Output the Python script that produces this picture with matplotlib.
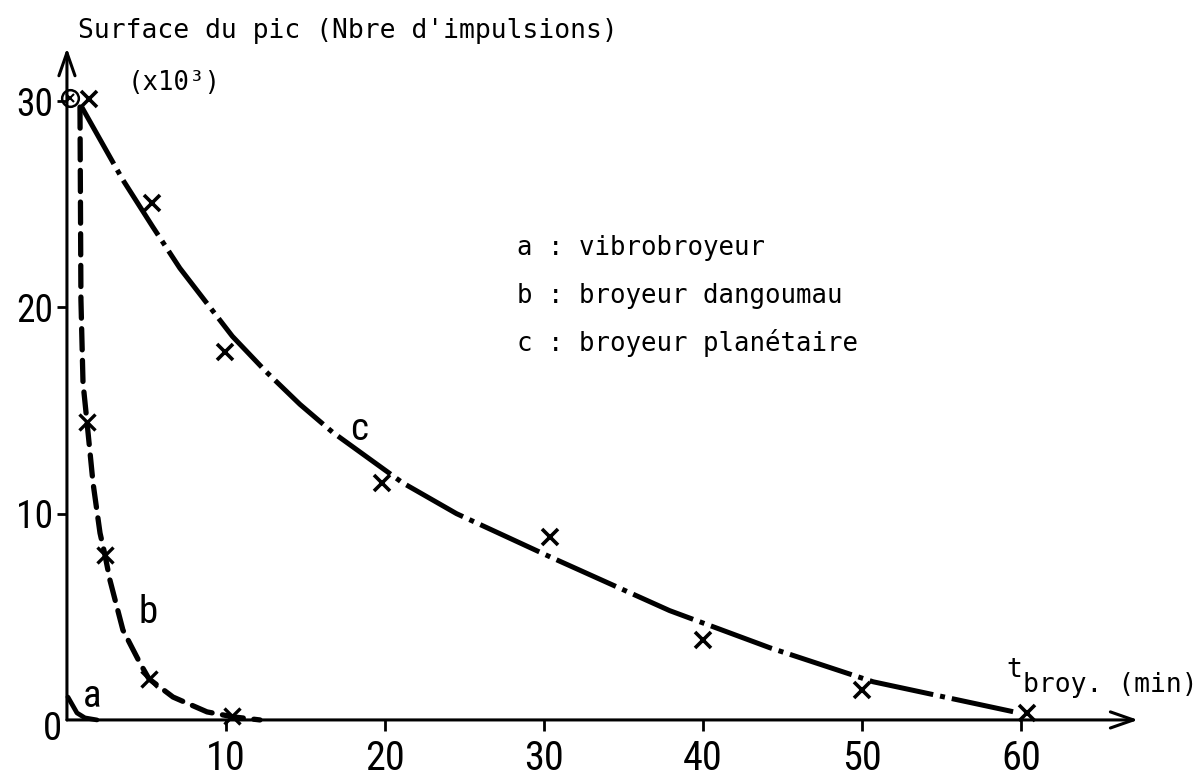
import matplotlib
matplotlib.use('Agg')
import matplotlib.pyplot as plt

# measured crosses (t in min, surface in 10^3 counts)
c_t = [1.4, 5.35, 9.94, 19.8, 30.4, 40.0, 50.0, 60.4]
c_v = [30.1, 25.06, 17.84, 11.49, 8.87, 3.88, 1.45, 0.34]
b_t = [1.26, 2.39, 5.16, 10.38]
b_v = [14.45, 8.0, 1.99, 0.19]
origin_t = [0.19]
origin_v = [30.15]

# hand drawn curves
c_curve_t = [0.94, 3.5, 5.4, 7.1, 10.4, 12.5, 14.65, 16.7, 21.1, 24.5, 30.4, 37.9, 44.2, 50.7, 59.5]
c_curve_v = [29.7, 26.2, 23.9, 21.9, 18.6, 16.9, 15.3, 13.95, 11.5, 10.0, 7.9, 5.3, 3.5, 1.85, 0.4]
b_curve_t = [0.82, 0.88, 1.01, 1.26, 1.64, 2.08, 2.39, 2.70, 3.52, 4.59, 5.16, 6.67, 8.81, 10.44, 12.14]
b_curve_v = [29.71, 20.36, 16.34, 14.45, 11.49, 9.06, 8.00, 6.79, 4.36, 2.76, 1.99, 1.11, 0.39, 0.15, 0.0]
a_curve_t = [0.06, 0.63, 1.13, 1.89]
a_curve_v = [1.11, 0.34, 0.10, 0.0]

x_ticks = [10, 20, 30, 40, 50, 60]
y_ticks = [10, 20, 30]
legend_lines = ['a : vibrobroyeur', 'b : broyeur dangoumau', 'c : broyeur planétaire']

MONO = 'DejaVu Sans Mono'
NUM = ['Roboto Condensed', 'DejaVu Sans Condensed', 'Liberation Sans Narrow', 'Roboto', 'DejaVu Sans']

fig = plt.figure(figsize=(12.02, 7.81), dpi=100)
ax = fig.add_axes([0, 0, 1, 1])
ax.set_xlim(-4.21, 71.38)
ax.set_ylim(-2.96, 34.9)
for s in ax.spines.values():
    s.set_visible(False)
ax.spines['left'].set_position(('data', 0))
ax.spines['bottom'].set_position(('data', 0))

# axes with open arrow heads
arrow = dict(arrowstyle='->,head_length=0.83,head_width=0.29', lw=2.2, color='k',
             mutation_scale=20, shrinkA=0, shrinkB=0)
ax.annotate('', xy=(67.36, 0), xytext=(0, 0), arrowprops=arrow)
ax.annotate('', xy=(0, 32.57), xytext=(0, 0), arrowprops=arrow)

ax.set_xticks(x_ticks)
ax.set_xticklabels([str(t) for t in x_ticks], family=NUM, fontsize=29, fontstretch='condensed')
ax.set_yticks(y_ticks)
ax.set_yticklabels([str(t) for t in y_ticks], family=NUM, fontsize=27, fontstretch='condensed')
ax.tick_params(axis='x', direction='out', length=8, width=2, pad=6)
ax.tick_params(axis='y', direction='out', length=7, width=2, pad=3)
ax.text(-0.88, -0.48, '0', family=NUM, fontsize=28, fontstretch='condensed', ha='center', va='center')

# curves
ax.plot(a_curve_t, a_curve_v, color='k', lw=3.4, solid_capstyle='round')
ax.plot(b_curve_t, b_curve_v, color='k', lw=3.8, linestyle=(0, (4, 2)), dash_capstyle='round')
ax.plot(c_curve_t, c_curve_v, color='k', lw=3.6, linestyle=(0, (13, 1.4, 1.0, 1.4)),
        dash_joinstyle='round')

ax.plot(c_t, c_v, 'x', color='k', ms=12, mew=2.6)
ax.plot(b_t, b_v, 'x', color='k', ms=11, mew=2.4)
ax.plot(origin_t, origin_v, 'o', color='k', ms=12, mfc='none', mew=1.8)
ax.plot(origin_t, origin_v, 'x', color='k', ms=6, mew=1.5)

lbl = dict(family=NUM, fontsize=28, fontstretch='condensed', ha='center', va='center')
ax.text(1.57, 1.16, 'a', **lbl)
ax.text(5.1, 5.2, 'b', **lbl)
ax.text(18.4, 14.06, 'c', **lbl)

# titles
ax.text(0.69, 33.06, "Surface du pic (Nbre d'impulsions)", family=MONO, fontsize=19, va='baseline')
ax.text(3.8, 30.55, '(x10³)', family=MONO, fontsize=18.5, va='baseline')
for i, line in enumerate(legend_lines):
    ax.text(28.3, 22.55 - i * 2.33, line, family=MONO, fontsize=18.5, va='baseline')
ax.text(59.1, 2.08, 't', family=MONO, fontsize=19, va='baseline')
ax.text(60.1, 1.36, 'broy. (min)', family=MONO, fontsize=19, va='baseline')

fig.savefig('out.png', dpi=100)
